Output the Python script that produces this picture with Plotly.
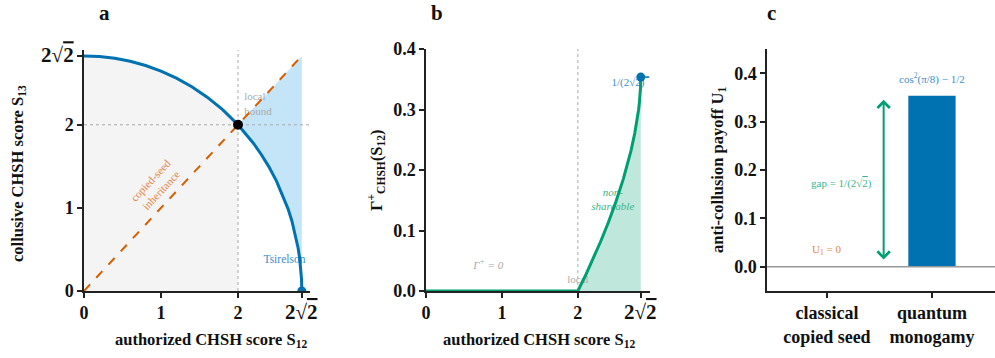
import plotly.graph_objects as go

# ---------------- data ----------------
TS = 2.8284  # Tsirelson value 2*sqrt(2)
LOCAL = 2.0

# panel a: boundary S12^2 + S13^2 = 8
arc_s12 = [0, 0.2, 0.4, 0.6, 0.8, 1.0, 1.2, 1.4, 1.6, 1.8, 2.0, 2.1, 2.2, 2.3, 2.4, 2.5,
           2.6, 2.65, 2.7, 2.75, 2.78, 2.8, 2.81, 2.82, 2.825, 2.8284]
arc_s13 = [2.828, 2.821, 2.8, 2.764, 2.713, 2.646, 2.561, 2.458, 2.332, 2.182, 2.0, 1.895,
           1.778, 1.646, 1.497, 1.323, 1.114, 0.989, 0.843, 0.661, 0.521, 0.4, 0.322, 0.218,
           0.139, 0.0]
seed_s = [0, 2.8284]

# panel b: Gamma+ curve
gam_s = [0, 2.0, 2.1, 2.2, 2.3, 2.4, 2.5, 2.6, 2.65, 2.7, 2.75, 2.78, 2.8, 2.81, 2.82, 2.825, 2.8284]
gam_v = [0, 0, 0.0256, 0.0528, 0.0818, 0.1129, 0.1472, 0.1858, 0.2076, 0.2321, 0.2611,
         0.2824, 0.3, 0.311, 0.3253, 0.3358, 0.3536]
GAMMA_MAX = 0.3536

# panel c: bars
bar_cats = ["classical<br>copied seed", "quantum<br>monogamy"]
bar_pos = [0, 1]
bar_vals = [0.0, 0.3536]

# ---------------- style ----------------
BLUE = "#0072B2"
ORANGE = "#D55E00"
GREEN = "#009E73"
BLUE_TXT = "#3a8fcc"
ORANGE_TXT = "#e3884a"
GREEN_TXT = "#3db48a"
GRAY_TXT = "#aaaaaa"
SERIF = "Liberation Serif, Times New Roman, DejaVu Serif, serif"

W, H = 995, 358


def px(xpix):
    return xpix / W


def py(ypix):
    return (H - ypix) / H


fig = go.Figure()

i2 = arc_s12.index(LOCAL)

# ---- panel a ----
fig.add_trace(go.Scatter(x=[0] + arc_s12[:i2 + 1] + [LOCAL], y=[0] + arc_s13[:i2 + 1] + [0],
                         fill="toself", fillcolor="#f4f4f4", mode="none",
                         xaxis="x", yaxis="y", hoverinfo="skip"))
fig.add_trace(go.Scatter(x=arc_s12[i2:] + [TS, LOCAL], y=arc_s13[i2:] + [TS, LOCAL],
                         fill="toself", fillcolor="rgba(86,180,233,0.35)", mode="none",
                         xaxis="x", yaxis="y", hoverinfo="skip"))
fig.add_trace(go.Scatter(x=[LOCAL, LOCAL], y=[0, 2.9], mode="lines",
                         line=dict(color="#aaaaaa", width=1, dash="dot"), xaxis="x", yaxis="y"))
fig.add_trace(go.Scatter(x=[0, 2.93], y=[LOCAL, LOCAL], mode="lines",
                         line=dict(color="#aaaaaa", width=1, dash="dot"), xaxis="x", yaxis="y"))
fig.add_trace(go.Scatter(x=[2.08], y=[2.24], mode="text", text=["local<br>bound"],
                         textposition="middle right",
                         textfont=dict(family=SERIF, size=11, color=GRAY_TXT),
                         xaxis="x", yaxis="y"))
fig.add_trace(go.Scatter(x=[2.33], y=[0.37], mode="text", text=["Tsirelson"],
                         textposition="middle right",
                         textfont=dict(family=SERIF, size=11.5, color=BLUE_TXT),
                         xaxis="x", yaxis="y"))
fig.add_trace(go.Scatter(x=seed_s, y=seed_s, mode="lines",
                         line=dict(color=ORANGE, width=2, dash="dash"), xaxis="x", yaxis="y"))
fig.add_trace(go.Scatter(x=arc_s12, y=arc_s13, mode="lines",
                         line=dict(color=BLUE, width=3), xaxis="x", yaxis="y"))
fig.add_trace(go.Scatter(x=[LOCAL], y=[LOCAL], mode="markers",
                         marker=dict(color="black", size=10), xaxis="x", yaxis="y"))
fig.add_trace(go.Scatter(x=[TS], y=[0], mode="markers",
                         marker=dict(color=BLUE, size=9), xaxis="x", yaxis="y"))

# ---- panel b ----
j2 = 1
fig.add_trace(go.Scatter(x=gam_s[j2:] + [gam_s[-1]], y=gam_v[j2:] + [0],
                         fill="toself", fillcolor="rgba(0,158,115,0.25)", mode="none",
                         xaxis="x2", yaxis="y2", hoverinfo="skip"))
fig.add_trace(go.Scatter(x=[LOCAL], y=[0.017], mode="text", text=["local"],
                         textposition="middle center",
                         textfont=dict(family=SERIF, size=11, color=GRAY_TXT),
                         xaxis="x2", yaxis="y2"))
fig.add_trace(go.Scatter(x=[2.46], y=[0.15], mode="text", text=["<i>non-</i><br><i>shareable</i>"],
                         textposition="middle center",
                         textfont=dict(family=SERIF, size=11, color=GREEN_TXT),
                         xaxis="x2", yaxis="y2"))
fig.add_trace(go.Scatter(x=[2.66], y=[0.343], mode="text", text=["1/(2√2)"],
                         textposition="middle center",
                         textfont=dict(family=SERIF, size=11, color=BLUE_TXT),
                         xaxis="x2", yaxis="y2"))
fig.add_trace(go.Scatter(x=[0.82], y=[0.041], mode="text", text=["<i>Γ<sup>+</sup> = 0</i>"],
                         textposition="middle center",
                         textfont=dict(family=SERIF, size=11, color=GRAY_TXT),
                         xaxis="x2", yaxis="y2"))
fig.add_trace(go.Scatter(x=[LOCAL, LOCAL], y=[0, 0.4], mode="lines",
                         line=dict(color="#aaaaaa", width=1, dash="dot"), xaxis="x2", yaxis="y2"))
fig.add_trace(go.Scatter(x=gam_s, y=gam_v, mode="lines",
                         line=dict(color=GREEN, width=3), xaxis="x2", yaxis="y2"))
fig.add_trace(go.Scatter(x=[TS, 2.94], y=[GAMMA_MAX, GAMMA_MAX], mode="lines",
                         line=dict(color=BLUE, width=1.5), xaxis="x2", yaxis="y2"))
fig.add_trace(go.Scatter(x=[TS], y=[GAMMA_MAX], mode="markers",
                         marker=dict(color=BLUE, size=9), xaxis="x2", yaxis="y2"))

# ---- panel c ----
fig.add_trace(go.Scatter(x=[-0.6, 1.7], y=[0, 0], mode="lines",
                         line=dict(color="#999999", width=1.5), xaxis="x3", yaxis="y3"))
fig.add_trace(go.Bar(x=bar_pos, y=bar_vals, width=0.45, marker=dict(color=BLUE, line=dict(width=0)),
                     xaxis="x3", yaxis="y3"))

axis_common = dict(showline=True, linecolor="#222222", linewidth=1.5, ticks="outside",
                   ticklen=5, tickwidth=1.5, tickcolor="#222222", showgrid=False, zeroline=False,
                   automargin=False,
                   tickfont=dict(family=SERIF, size=18, color="#111111", weight="bold"))

SQ2_TXT = "2√<span style='text-decoration:overline'>2</span>"

fig.update_layout(
    width=W, height=H, margin=dict(l=0, r=0, t=0, b=0, autoexpand=False),
    paper_bgcolor="white", plot_bgcolor="white", showlegend=False,
    font=dict(family=SERIF),
    xaxis=dict(domain=[px(84), px(310)], range=[0, 2.935], anchor="y",
               tickvals=[0, 1, 2, TS], ticktext=["0", "1", "2", ""], **axis_common),
    yaxis=dict(domain=[py(291), py(50)], range=[0, 2.9], anchor="x",
               tickvals=[0, 1, 2, TS],
               ticktext=["0", "1", "2", "<span style='font-size:21px'>" + SQ2_TXT + "</span>"],
               **axis_common),
    xaxis2=dict(domain=[px(426), px(650)], range=[0, 2.95], anchor="y2",
                tickvals=[0, 1, 2, TS], ticktext=["0", "1", "2", ""], **axis_common),
    yaxis2=dict(domain=[py(291), py(49)], range=[0, 0.4], anchor="x2",
                tickvals=[0, 0.1, 0.2, 0.3, 0.4], ticktext=["0.0", "0.1", "0.2", "0.3", "0.4"],
                **axis_common),
    xaxis3=dict(domain=[px(767), 1.0], range=[-0.57, 1.6], anchor="y3",
                tickvals=bar_pos, ticktext=bar_cats, **axis_common),
    yaxis3=dict(domain=[py(291), py(49)], range=[-0.05, 0.45], anchor="x3",
                tickvals=[0, 0.1, 0.2, 0.3, 0.4], ticktext=["0.0", "0.1", "0.2", "0.3", "0.4"],
                **axis_common),
)

title_font = dict(family=SERIF, size=16.5, color="#111111", weight="bold")
label_font = dict(family=SERIF, size=21, color="#111111", weight="bold")
C = dict(xanchor="center", yanchor="middle", showarrow=False)
annos = [
    dict(text="a", x=px(104), y=py(13), xref="paper", yref="paper", font=label_font, **C),
    dict(text="b", x=px(437), y=py(13), xref="paper", yref="paper", font=label_font, **C),
    dict(text="c", x=px(771), y=py(13), xref="paper", yref="paper", font=label_font, **C),
    dict(text="authorized CHSH score S<sub>12</sub>", x=px(211), y=py(340), xref="paper",
         yref="paper", font=title_font, **C),
    dict(text="collusive CHSH score S<sub>13</sub>", x=px(18), y=py(174), xref="paper",
         yref="paper", textangle=-90, font=title_font, **C),
    dict(text="authorized CHSH score S<sub>12</sub>", x=px(539), y=py(340), xref="paper",
         yref="paper", font=title_font, **C),
    dict(text="Γ<sup>+</sup><sub>CHSH</sub>(S<sub>12</sub>)", x=px(376), y=py(170), xref="paper",
         yref="paper", textangle=-90, font=title_font, **C),
    dict(text="anti-collusion payoff U<sub>1</sub>", x=px(718), y=py(170), xref="paper",
         yref="paper", textangle=-90, font=title_font, **C),
    # 2√2 x tick labels (set lower)
    dict(text=SQ2_TXT, x=TS, y=py(312), xref="x", yref="paper",
         font=dict(family=SERIF, size=21, color="#111111", weight="bold"), **C),
    dict(text=SQ2_TXT, x=TS, y=py(312), xref="x2", yref="paper",
         font=dict(family=SERIF, size=21, color="#111111", weight="bold"), **C),
    # panel a rotated label
    dict(text="copied-seed<br>inheritance", x=0.93, y=1.28, xref="x", yref="y",
         textangle=-47, font=dict(family=SERIF, size=11, color=ORANGE_TXT), **C),
    # panel c labels
    dict(text="cos<sup>2</sup>(π/8) − 1/2", x=1, y=0.39, xref="x3", yref="y3",
         font=dict(family=SERIF, size=11, color=BLUE_TXT), **C),
    dict(text="gap = 1/(2" + "√<span style='text-decoration:overline'>2</span>)", x=0.14, y=0.172,
         xref="x3", yref="y3", font=dict(family=SERIF, size=11, color=GREEN_TXT), **C),
    dict(text="U<sub>1</sub> = 0", x=0, y=0.035, xref="x3", yref="y3",
         font=dict(family=SERIF, size=11, color=ORANGE_TXT), **C),
    # double-headed gap arrow
    dict(text="", x=0.54, y=0.345, ax=0.54, ay=0.012, xref="x3", yref="y3", axref="x3",
         ayref="y3", showarrow=True, arrowhead=4, startarrowhead=4, arrowside="end+start",
         arrowwidth=2, arrowsize=1.2, startarrowsize=1.2, arrowcolor=GREEN),
]
fig.update_layout(annotations=annos)

fig.write_html("out.html")
